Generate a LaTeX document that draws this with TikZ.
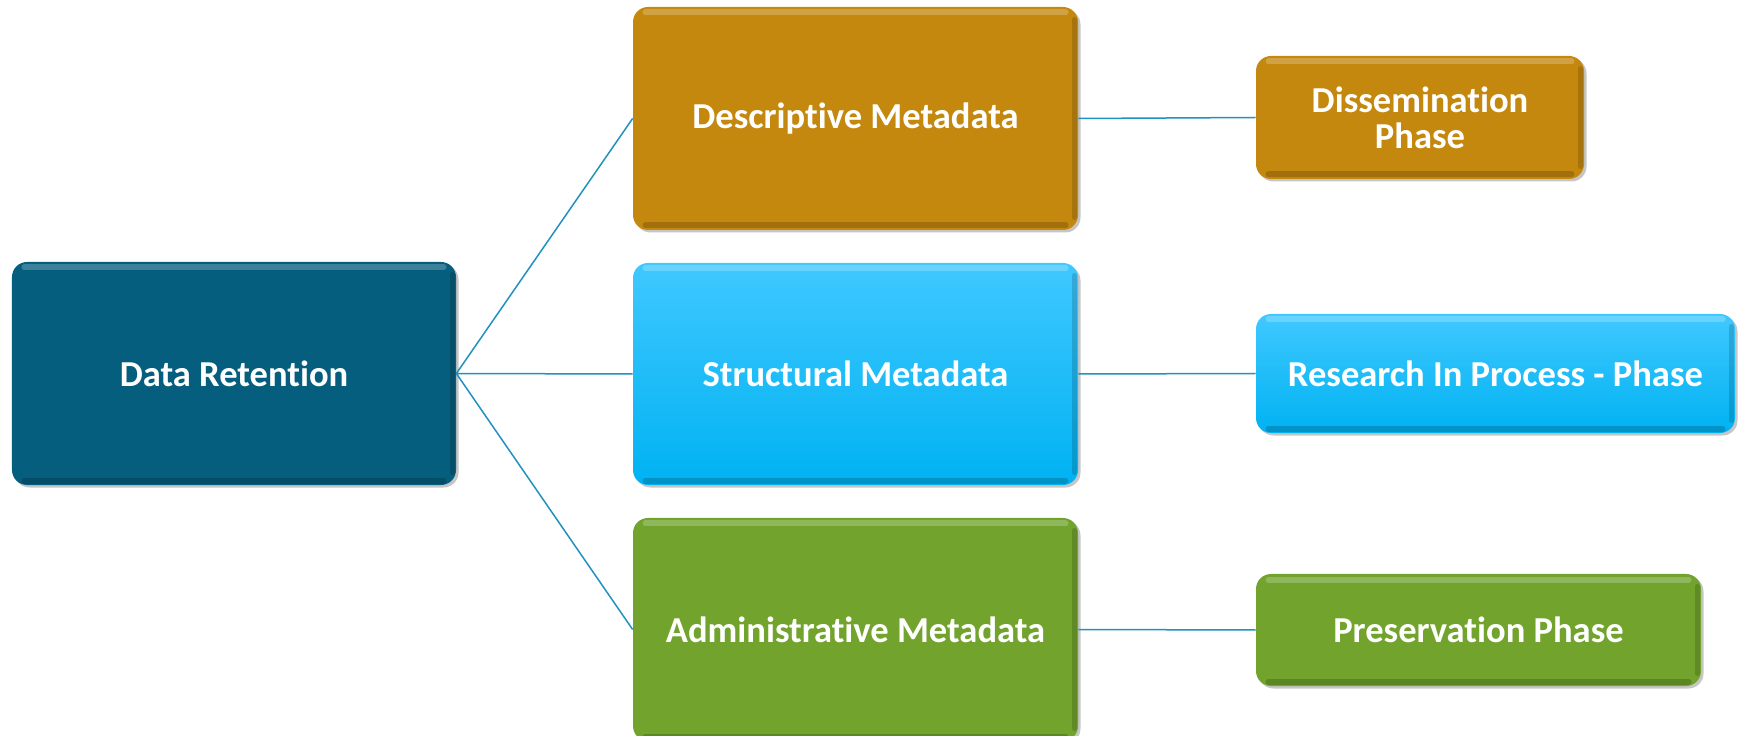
\documentclass[tikz,border=0pt]{standalone}
\usepackage{fontspec}
\setmainfont{Carlito}[Ligatures=NoCommon]
\usetikzlibrary{shadows}
\definecolor{drc}{RGB}{6,94,126}
\definecolor{descc}{RGB}{197,136,15}
\definecolor{strtop}{RGB}{64,200,255}
\definecolor{strbot}{RGB}{0,178,242}
\definecolor{admc}{RGB}{113,163,45}
\definecolor{linkc}{RGB}{33,145,192}
\tikzset{
  box/.style={rounded corners=3mm, inner sep=0pt, align=center, text=white,
    font=\bfseries\fontsize{20.8}{20.5}\selectfont,
    drop shadow={shadow xshift=0.5mm, shadow yshift=-0.5mm, opacity=0.45},
    path picture={
      \draw[white, opacity=0.22, line width=1.2mm, line cap=round]
        ([xshift=2.5mm,yshift=-1.1mm]path picture bounding box.north west) --
        ([xshift=-2.5mm,yshift=-1.1mm]path picture bounding box.north east);
      \draw[black, opacity=0.18, line width=1.2mm, line cap=round]
        ([xshift=2.5mm,yshift=0.9mm]path picture bounding box.south west) --
        ([xshift=-2.5mm,yshift=0.9mm]path picture bounding box.south east);
      \draw[black, opacity=0.15, line width=1.0mm, line cap=round]
        ([xshift=-0.7mm,yshift=-2.5mm]path picture bounding box.north east) --
        ([xshift=-0.7mm,yshift=2.5mm]path picture bounding box.south east);
    }},
  link/.style={draw=linkc, line width=0.3mm}
}
\begin{document}
\begin{tikzpicture}[x=0.2mm, y=-0.2mm]
\useasboundingbox (0,0) rectangle (1741,736);
\node[box, fill=drc, minimum width=88.8mm, minimum height=44.6mm] (dr) at (234,373.5) {Data Retention};
\node[box, fill=descc, minimum width=89mm, minimum height=44.6mm] (desc) at (855.5,118.5) {Descriptive Metadata};
\node[box, top color=strtop, bottom color=strbot, minimum width=89mm, minimum height=44.4mm] (str) at (855.5,374) {Structural Metadata};
\node[box, fill=admc, minimum width=89mm, minimum height=44.6mm] (adm) at (855.5,629.5) {Administrative Metadata};
\node[box, fill=descc, minimum width=65.6mm, minimum height=24.6mm] (dis) at (1420,117.5) {Dissemination\\Phase};
\node[box, top color=strtop, bottom color=strbot, minimum width=95.8mm, minimum height=23.8mm] (res) at (1495.5,373.5) {Research In Process - Phase};
\node[box, fill=admc, minimum width=89mm, minimum height=22.4mm] (pre) at (1478.5,630) {Preservation Phase};
\draw[link] (dr.east) -- (desc.west);
\draw[link] (dr.east) -- (str.west);
\draw[link] (dr.east) -- (adm.west);
\draw[link] (desc.east) -- (dis.west);
\draw[link] (str.east) -- (res.west);
\draw[link] (adm.east) -- (pre.west);
\end{tikzpicture}
\end{document}
